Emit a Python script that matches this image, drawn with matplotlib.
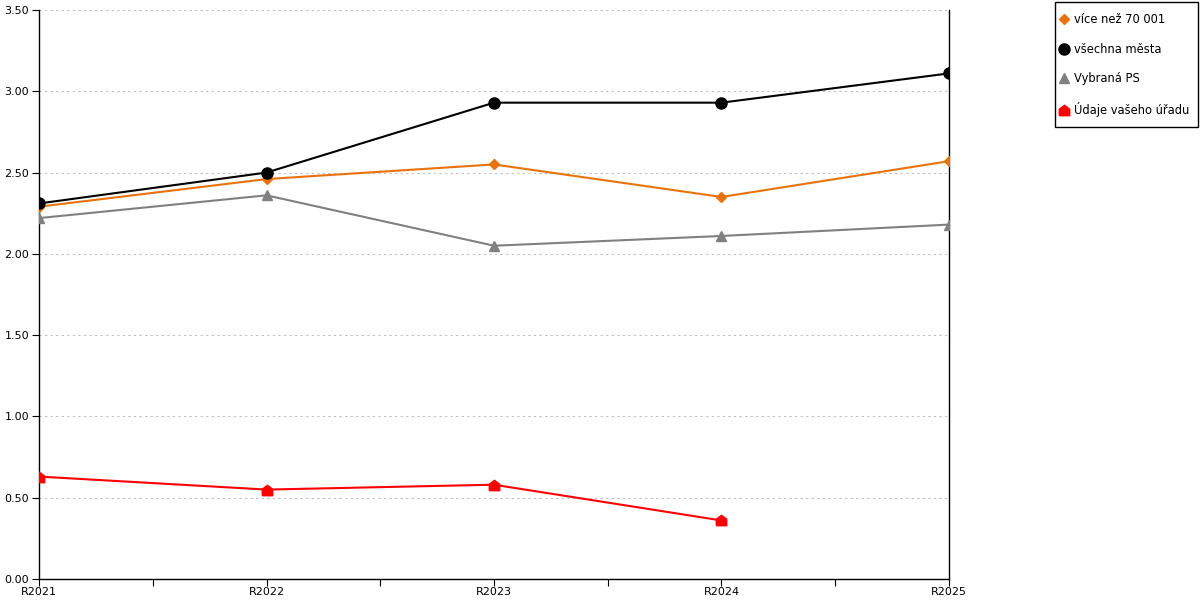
import matplotlib.pyplot as plt
import matplotlib.patches as mpatches
import numpy as np

categories = ['R2021', 'R2022', 'R2023', 'R2024', 'R2025']
vice_nez = [2.29, 2.46, 2.55, 2.35, 2.57]
vsechna_mesta = [2.31, 2.50, 2.93, 2.93, 3.11]
vybrana_ps = [2.22, 2.36, 2.05, 2.11, 2.18]
vas_urad = [0.63, 0.55, 0.58, 0.36]

# house shaped marker for the office series
house = [(-1, -1), (1, -1), (1, 0.25), (0, 1), (-1, 0.25), (-1, -1)]

fig = plt.figure(figsize=(12, 6), dpi=100)
ax = fig.add_axes([39/1200, 21/600, 910/1200, 569/600])

x = np.arange(len(categories))
ax.plot(x, vice_nez, color='#e8720c', lw=1.5, marker='D', ms=5.5, label='více než 70 001', zorder=3)
ax.plot(x, vsechna_mesta, color='#000000', lw=1.5, marker='o', ms=8, label='všechna města', zorder=4)
ax.plot(x, vybrana_ps, color='#808080', lw=1.5, marker='^', ms=7.5, label='Vybraná PS', zorder=3)
ax.plot(x[:len(vas_urad)], vas_urad, color='#ff0000', lw=1.5, marker=house, ms=7.5, label='Údaje vašeho úřadu', zorder=3)

ax.set_xlim(0, len(categories) - 1)
ax.set_ylim(0, 3.5)
ax.set_yticks(np.arange(0, 3.51, 0.5))
ax.set_yticklabels(['%.2f' % v for v in np.arange(0, 3.51, 0.5)])
ax.set_xticks(x)
ax.set_xticklabels(categories)
ax.set_xticks(x[:-1] + 0.5, minor=True)
ax.tick_params(axis='x', which='both', length=5, width=0.8, labelsize=8, pad=1)
ax.tick_params(axis='y', length=5, width=0.8, labelsize=8, pad=2)

ax.yaxis.grid(True, color='#c0c0c0', linestyle=(0, (2, 3)), lw=0.8)
ax.set_axisbelow(True)

ax.spines['top'].set_visible(False)
for s in ['left', 'right', 'bottom']:
    ax.spines[s].set_color('black')
    ax.spines[s].set_linewidth(1)

# legend without its own frame, box drawn separately
leg = fig.legend(loc='upper left', bbox_to_anchor=(1060/1200, 1 - 13/600),
                 frameon=False, fontsize=8.3,
                 handlelength=0.7, handletextpad=0.5, labelspacing=1.45,
                 borderpad=0, borderaxespad=0)
for h in leg.legend_handles:
    h.set_linestyle('none')
box = mpatches.Rectangle((1055/1200, 1 - 127/600), 143/1200, 125/600,
                         transform=fig.transFigure, fill=False,
                         edgecolor='black', lw=1)
fig.patches.append(box)

fig.savefig('out.png', dpi=100)
